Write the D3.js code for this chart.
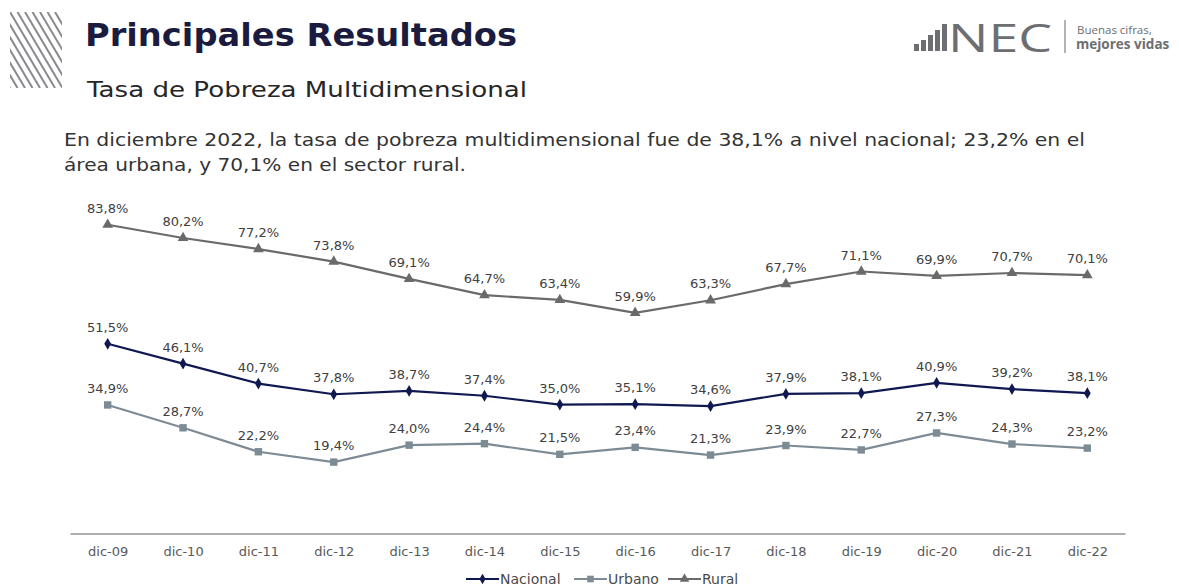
<!DOCTYPE html>
<html><head><meta charset="utf-8">
<script src="https://cdn.jsdelivr.net/npm/d3@7"></script>
<style>body{margin:0;background:#fff;}svg{display:block;}</style>
</head><body>
<svg id="c" width="1179" height="587"></svg>
<script>
const categories = ["dic-09","dic-10","dic-11","dic-12","dic-13","dic-14","dic-15","dic-16","dic-17","dic-18","dic-19","dic-20","dic-21","dic-22"];
const nacional = [51.5,46.1,40.7,37.8,38.7,37.4,35.0,35.1,34.6,37.9,38.1,40.9,39.2,38.1];
const urbano = [34.9,28.7,22.2,19.4,24.0,24.4,21.5,23.4,21.3,23.9,22.7,27.3,24.3,23.2];
const rural = [83.8,80.2,77.2,73.8,69.1,64.7,63.4,59.9,63.3,67.7,71.1,69.9,70.7,70.1];
const seriesNames = ["Nacional","Urbano","Rural"];

const svg = d3.select("#c");
const font = "'DejaVu Sans', sans-serif";
const font2 = "'Open Sans', sans-serif";

// decorative stripes
const defs = svg.append("defs");
defs.append("clipPath").attr("id","sc").append("rect").attr("x",10).attr("y",12).attr("width",52).attr("height",76);
const sg = svg.append("g").attr("clip-path","url(#sc)");
for (let i = -6; i < 10; i++) {
  sg.append("line").attr("x1",10+i*7.5).attr("y1",12).attr("x2",10+i*7.5+45).attr("y2",88)
    .attr("stroke","#8a8a8e").attr("stroke-width",2);
}

svg.append("text").attr("x",85).attr("y",46).attr("font-family",font).attr("font-weight",700)
  .attr("font-size",32).attr("fill","#1a1b3e").attr("textLength",432).attr("lengthAdjust","spacingAndGlyphs").text("Principales Resultados");
svg.append("text").attr("x",87).attr("y",97).attr("font-family",font)
  .attr("font-size",21).attr("fill","#262626").attr("textLength",440).attr("lengthAdjust","spacingAndGlyphs").text("Tasa de Pobreza Multidimensional");
svg.append("text").attr("x",64).attr("y",146).attr("font-family",font)
  .attr("font-size",18).attr("fill","#333").attr("textLength",1021).attr("lengthAdjust","spacingAndGlyphs").text("En diciembre 2022, la tasa de pobreza multidimensional fue de 38,1% a nivel nacional; 23,2% en el");
svg.append("text").attr("x",64).attr("y",171).attr("font-family",font)
  .attr("font-size",18).attr("fill","#333").attr("textLength",402).attr("lengthAdjust","spacingAndGlyphs").text("área urbana, y 70,1% en el sector rural.");

// INEC logo
const lg = svg.append("g").attr("fill","#6d6e71");
[[914,44,5,7],[921,40,5,11],[928,35,5,16],[935,30,5,21],[942,24,5,27]].forEach(b=>{
  lg.append("rect").attr("x",b[0]).attr("y",b[1]).attr("width",b[2]).attr("height",b[3]);
});
lg.append("text").attr("x",948).attr("y",52).attr("font-family",font2).attr("font-size",39)
  .attr("textLength",104).attr("lengthAdjust","spacingAndGlyphs").text("NEC");
svg.append("line").attr("x1",1065).attr("x2",1065).attr("y1",20).attr("y2",53).attr("stroke","#9a9a9a").attr("stroke-width",1.5);
svg.append("text").attr("x",1077).attr("y",34).attr("font-family",font2).attr("font-size",11.5).attr("fill","#6d6e71").text("Buenas cifras,");
svg.append("text").attr("x",1076).attr("y",49).attr("font-family",font2).attr("font-weight",700).attr("font-size",13.5).attr("fill","#6d6e71").text("mejores vidas");

// scales
const x = d3.scalePoint().domain(categories).range([70,1125]).padding(0.5);
const y = d3.scaleLinear().domain([0,100]).range([533.6,165]);

// x axis
const xa = svg.append("g").attr("transform","translate(0,533.6)").call(d3.axisBottom(x).tickSize(0).tickPadding(13));
xa.select(".domain").attr("stroke","#b0b0b0").attr("stroke-width",2);
xa.selectAll("text").attr("font-family",font).attr("font-size",13).attr("fill","#595959");

const series = [
  {name:"Nacional", values:nacional, color:"#0f1850", marker:"diamond"},
  {name:"Urbano", values:urbano, color:"#7d8b94", marker:"square"},
  {name:"Rural", values:rural, color:"#6a6a6a", marker:"triangle"}
];
const sym = {diamond:d3.symbolDiamond, square:d3.symbolSquare, triangle:d3.symbolTriangle};
const symSize = {diamond:40, square:55, triangle:50};
const line = d3.line().x((d,i)=>x(categories[i])).y(d=>y(d));

series.forEach(s=>{
  const g = svg.append("g");
  g.append("path").attr("d",line(s.values)).attr("fill","none").attr("stroke",s.color).attr("stroke-width",2.2);
  g.selectAll("path.m").data(s.values).join("path").attr("class","m")
    .attr("transform",(d,i)=>`translate(${x(categories[i])},${y(d)})`)
    .attr("d",d3.symbol().type(sym[s.marker]).size(symSize[s.marker])).attr("fill",s.color);
  g.selectAll("text").data(s.values).join("text")
    .attr("x",(d,i)=>x(categories[i])).attr("y",d=>y(d)-12)
    .attr("text-anchor","middle").attr("font-family",font).attr("font-size",13).attr("fill","#404040")
    .text(d=>d.toFixed(1).replace(".",",")+"%");
});

// legend
const legX = [466,574,668];
series.forEach((s,i)=>{
  const g = svg.append("g").attr("transform",`translate(${legX[i]},579)`);
  g.append("line").attr("x1",0).attr("x2",33).attr("stroke",s.color).attr("stroke-width",2.2);
  g.append("path").attr("transform","translate(16.5,0)").attr("d",d3.symbol().type(sym[s.marker]).size(symSize[s.marker]*0.8)).attr("fill",s.color);
  g.append("text").attr("x",34).attr("y",5).attr("font-family",font).attr("font-size",14).attr("fill","#4a4a4a").text(s.name);
});
</script>
</body></html>
